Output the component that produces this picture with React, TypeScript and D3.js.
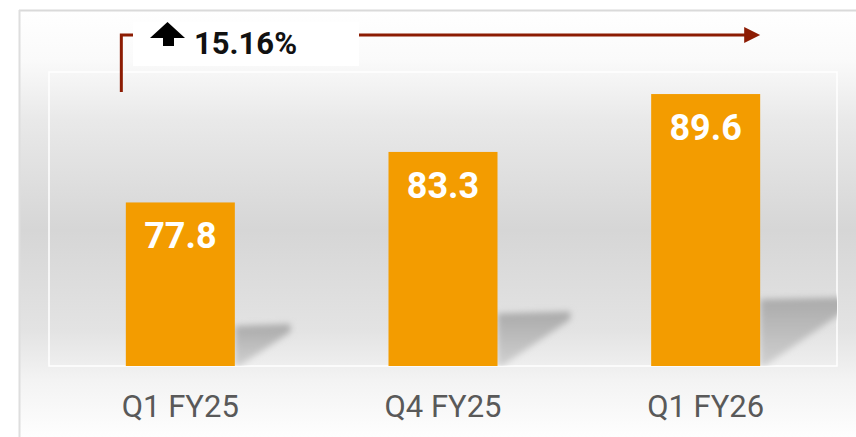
import React from "react";
import * as d3 from "d3";

const categories = ["Q1 FY25", "Q4 FY25", "Q1 FY26"];
const values = [77.8, 83.3, 89.6];
const growthLabel = "15.16%";
const yDomain = [60, 92];

const W = 856;
const H = 437;
const plot = { left: 49, right: 837, top: 72, bottom: 366 };

export default function App() {
  const x = d3
    .scaleBand<string>()
    .domain(categories)
    .range([plot.left, plot.right])
    .paddingInner(0.585)
    .paddingOuter(0.2925);
  const y = d3.scaleLinear().domain(yDomain).range([plot.bottom, plot.top]);
  const bw = x.bandwidth();

  const bgStops: [number, string][] = [
    [10, "#ffffff"],
    [60, "#fafafa"],
    [120, "#e9e9e9"],
    [230, "#d6d6d6"],
    [330, "#e3e3e3"],
    [380, "#f3f3f3"],
    [437, "#fefefe"],
  ];

  const firstLeft = x(categories[0])!;
  const lastRight = x(categories[categories.length - 1])! + bw;
  const arrowY = 35;

  return (
    <svg
      width={W}
      height={H}
      style={{ position: "absolute", left: 0, top: 0, display: "block" }}
      fontFamily="Roboto, 'Noto Sans', sans-serif"
    >
      <defs>
        <linearGradient id="bg" gradientUnits="userSpaceOnUse" x1="0" y1="10" x2="0" y2="437">
          {bgStops.map(([yy, c], i) => (
            <stop key={i} offset={(yy - 10) / 427} stopColor={c} />
          ))}
        </linearGradient>
        <linearGradient id="shade" x1="0" y1="0" x2="0" y2="1">
          <stop offset="0" stopColor="#aaaaaa" />
          <stop offset="1" stopColor="#d0d0d0" />
        </linearGradient>
        <filter id="blur" x="-20%" y="-20%" width="140%" height="140%">
          <feGaussianBlur stdDeviation="3" />
        </filter>
        <clipPath id="plotClip">
          <rect x={plot.left} y={plot.top} width={plot.right - plot.left} height={plot.bottom - plot.top} />
        </clipPath>
      </defs>

      <rect x={0} y={0} width={W} height={H} fill="#ffffff" />
      <rect x={19} y={10} width={W - 19} height={H - 10} fill="url(#bg)" />
      <line x1={19} y1={10.5} x2={W} y2={10.5} stroke="#dadada" strokeWidth={2} />
      <line x1={19.5} y1={10} x2={19.5} y2={H} stroke="#dedede" strokeWidth={2} />

      <rect
        x={plot.left}
        y={plot.top}
        width={plot.right - plot.left}
        height={plot.bottom - plot.top}
        fill="none"
        stroke="#ffffff"
        strokeWidth={1.5}
      />

      <g clipPath="url(#plotClip)">
        {values.map((v, i) => {
          const xr = x(categories[i])! + bw;
          const h = plot.bottom - y(v);
          const top = plot.bottom - 0.245 * h;
          const w = 0.34 * h;
          const pts = [
            [xr, top],
            [xr + w, top - 2],
            [xr + w, top + 6],
            [xr + 4, plot.bottom],
            [xr, plot.bottom],
          ];
          return (
            <polygon
              key={i}
              points={pts.map((p) => p.join(",")).join(" ")}
              fill="url(#shade)"
              filter="url(#blur)"
            />
          );
        })}
      </g>

      {values.map((v, i) => (
        <g key={i}>
          <rect x={x(categories[i])!} y={y(v)} width={bw} height={plot.bottom - y(v)} fill="#f39c00" />
          <text
            x={x(categories[i])! + bw / 2}
            y={y(v) + 46}
            textAnchor="middle"
            fill="#ffffff"
            fontWeight="bold"
            fontSize={36}
          >
            {v.toFixed(1)}
          </text>
          <text
            x={x(categories[i])! + bw / 2}
            y={416.5}
            textAnchor="middle"
            fill="#595959"
            fontSize={31}
          >
            {categories[i]}
          </text>
        </g>
      ))}

      {/* growth annotation */}
      <polyline
        points={`${firstLeft - 4.5},92 ${firstLeft - 4.5},${arrowY} ${firstLeft + 10},${arrowY}`}
        fill="none"
        stroke="#8c1c03"
        strokeWidth={3}
      />
      <line x1={150} y1={arrowY} x2={lastRight - 14} y2={arrowY} stroke="#8c1c03" strokeWidth={3} />
      <polygon
        points={`${lastRight - 16},27 ${lastRight},${arrowY} ${lastRight - 16},43`}
        fill="#8c1c03"
      />
      <rect x={133} y={22} width={226} height={44} fill="#ffffff" />
      <polygon points="150,38 167.5,22 185,38 174,38 174,46 163,46 163,38" fill="#000000" />
      <text x={194} y={54} fill="#111111" fontWeight="bold" fontSize={31}>
        {growthLabel}
      </text>
    </svg>
  );
}
